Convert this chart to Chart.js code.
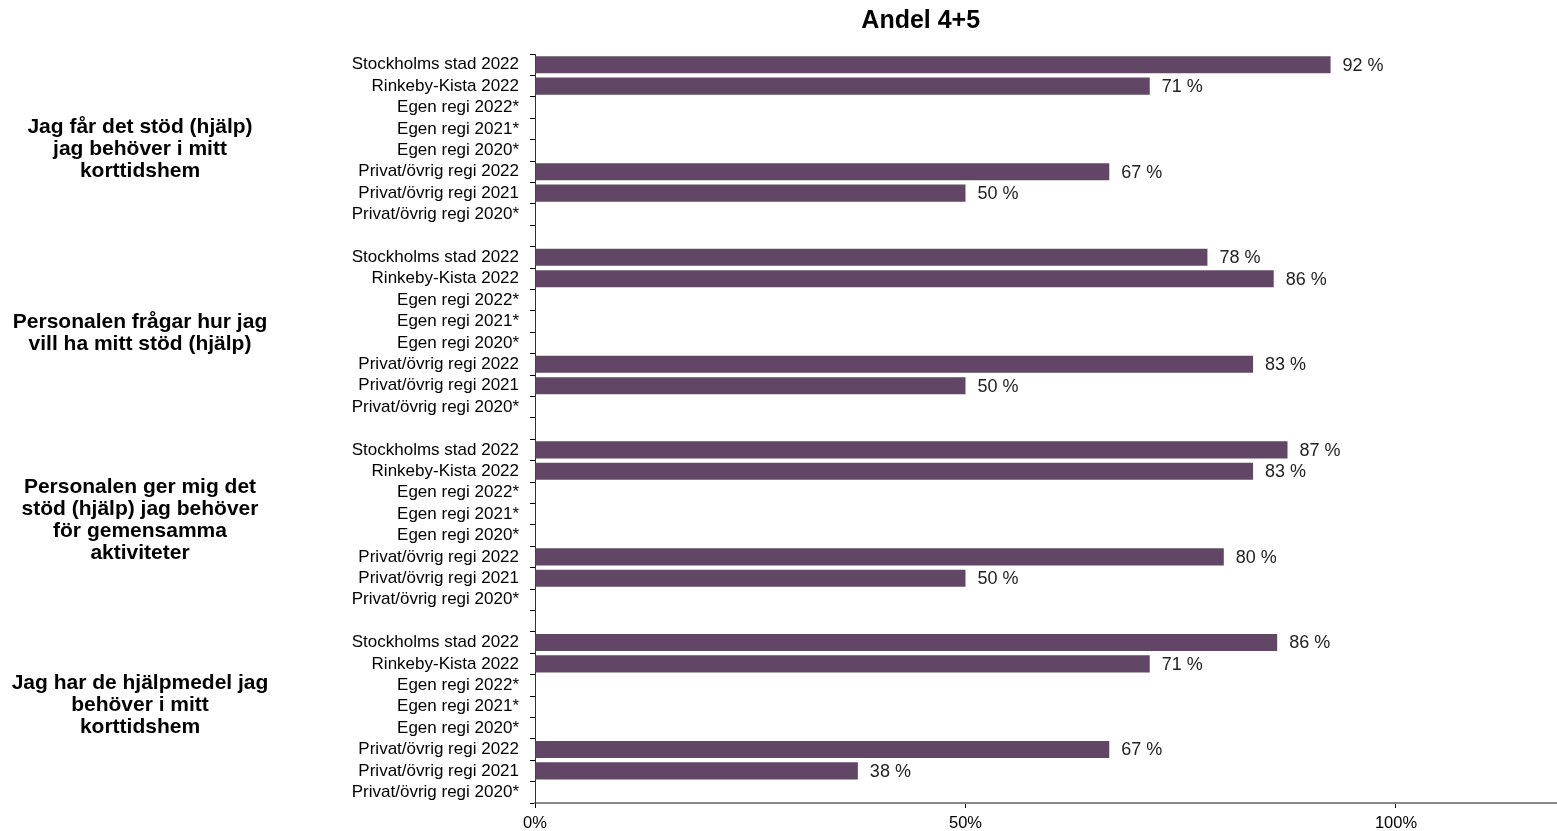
<!DOCTYPE html>
<html>
<head>
<meta charset="utf-8">
<script src="https://cdn.jsdelivr.net/npm/chart.js@4/dist/chart.umd.min.js"></script>
<style>
  body { margin: 0; background: #fff; }
  canvas { display: block; }
</style>
</head>
<body>
<canvas id="barChart" width="1557" height="831"></canvas>
<script>
// rows per group (blank row between groups)
const rowLabels = ['Stockholms stad 2022', 'Rinkeby-Kista 2022', 'Egen regi 2022*', 'Egen regi 2021*', 'Egen regi 2020*',
  'Privat/övrig regi 2022', 'Privat/övrig regi 2021', 'Privat/övrig regi 2020*'];

const groupTitles = [
  ['Jag får det stöd (hjälp)', 'jag behöver i mitt', 'korttidshem'],
  ['Personalen frågar hur jag', 'vill ha mitt stöd (hjälp)'],
  ['Personalen ger mig det', 'stöd (hjälp) jag behöver', 'för gemensamma', 'aktiviteter'],
  ['Jag har de hjälpmedel jag', 'behöver i mitt', 'korttidshem']
];

const group1 = [92.4, 71.4, null, null, null, 66.7, 50, null];
const group2 = [78.1, 85.8, null, null, null, 83.4, 50, null];
const group3 = [87.4, 83.4, null, null, null, 80, 50, null];
const group4 = [86.2, 71.4, null, null, null, 66.7, 37.5, null];

const xTicks = [0, 50, 100];
const chartTitle = 'Andel 4+5';

const labels = [];
const values = [];
[group1, group2, group3, group4].forEach(function (g, i) {
  rowLabels.forEach(function (l, j) {
    labels.push(l);
    values.push(g[j]);
  });
  if (i < 3) { labels.push(''); values.push(null); }
});

// where the group titles sit, in row index units
const groupCenters = [3.97, 12.57, 21.3, 29.95];

const extras = {
  id: 'extras',
  afterDatasetsDraw(chart) {
    const c = chart.ctx;
    const x = chart.scales.x, y = chart.scales.y;
    c.save();
    // value labels
    c.font = '18px "Liberation Sans", Arial, sans-serif';
    c.fillStyle = '#222';
    c.textAlign = 'left';
    c.textBaseline = 'middle';
    const meta = chart.getDatasetMeta(0);
    meta.data.forEach(function (bar, i) {
      if (values[i] == null) return;
      c.fillText(Math.round(values[i]) + ' %', bar.x + 12, bar.y + 1);
    });
    // group titles
    c.font = 'bold 21px "Liberation Sans", Arial, sans-serif';
    c.fillStyle = '#000';
    c.textAlign = 'center';
    groupTitles.forEach(function (lines, g) {
      const cy = y.getPixelForValue(groupCenters[g]);
      const lh = 22;
      lines.forEach(function (t, k) {
        c.fillText(t, 140, cy + (k - (lines.length - 1) / 2) * lh);
      });
    });
    // title
    c.font = 'bold 25px "Liberation Sans", Arial, sans-serif';
    c.fillText(chartTitle, x.getPixelForValue(44.8), 21);
    c.restore();
  }
};

const ctx = document.getElementById('barChart').getContext('2d');
const barChart = new Chart(ctx, {
  type: 'bar',
  data: {
    labels: labels,
    datasets: [{
      data: values,
      backgroundColor: 'rgb(97, 71, 101)',
      borderWidth: 0,
      barPercentage: 0.8,
      categoryPercentage: 1.0
    }]
  },
  options: {
    indexAxis: 'y',
    responsive: false,
    animation: false,
    layout: { padding: { top: 54, left: 0, right: 0, bottom: 0 } },
    plugins: {
      legend: { display: false },
      title: { display: false },
      tooltip: { enabled: false }
    },
    scales: {
      x: {
        min: 0,
        max: 118.7,
        afterBuildTicks(scale) {
          scale.ticks = xTicks.map(function (v) { return { value: v }; });
        },
        afterFit(scale) { scale.height = 28; },
        ticks: {
          callback: function (v) { return v + '%'; },
          color: '#000',
          font: { size: 16.5, family: '"Liberation Sans", Arial, sans-serif' },
          padding: 6,
          maxRotation: 0
        },
        grid: {
          drawOnChartArea: false,
          tickLength: 5,
          color: '#000'
        },
        border: { color: '#888', width: 2 }
      },
      y: {
        afterFit(scale) { scale.width = 535; },
        ticks: {
          autoSkip: false,
          color: '#000',
          font: { size: 17, family: '"Liberation Sans", Arial, sans-serif' },
          padding: 11
        },
        grid: {
          drawOnChartArea: false,
          offset: true,
          tickLength: 5,
          color: '#000'
        },
        border: { color: '#333', width: 1 }
      }
    }
  },
  plugins: [extras]
});
</script>
</body>
</html>
